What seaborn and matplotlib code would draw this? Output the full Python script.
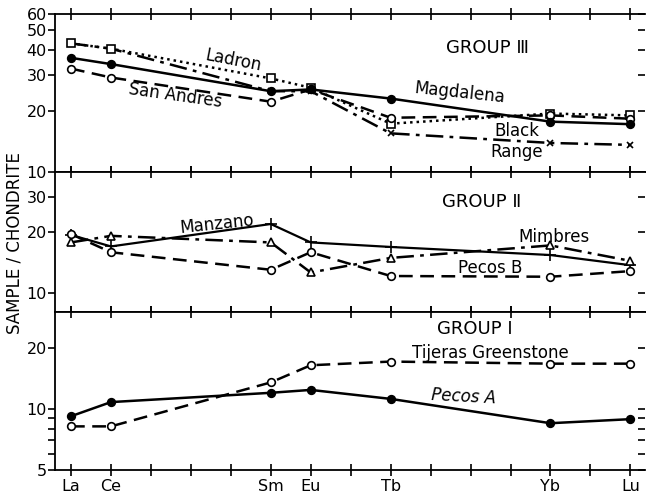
import numpy as np
import pandas as pd
import seaborn as sns
import matplotlib
matplotlib.use("Agg")
import matplotlib.pyplot as plt
from matplotlib.ticker import FixedLocator, NullFormatter

# ---------------- data ----------------
elements = ["La", "Ce", "Sm", "Eu", "Tb", "Yb", "Lu"]
element_pos = [0, 1, 5, 6, 8, 12, 14]

# Group III
magdalena = [36.5, 34.0, 25.0, 25.5, 23.0, 17.7, 17.2]
ladron = [43.0, 40.5, 28.9, 26.0, 17.3, 19.4, 19.0]
san_andres = [32.3, 29.2, 22.2, 25.5, 18.5, 19.0, 18.3]
black_range = [43.0, 40.5, 25.0, 25.0, 15.5, 13.9, 13.6]

# Group II
manzano = [19.4, 17.0, 22.0, 17.8, 16.9, 15.4, 13.7]
mimbres = [17.8, 19.2, 17.8, 12.6, 14.9, 17.2, 14.4]
pecos_b = [19.6, 15.9, 13.0, 15.9, 12.1, 12.0, 12.8]

# Group I
pecos_a = [9.2, 10.8, 12.0, 12.4, 11.2, 8.5, 8.9]
tijeras = [8.2, 8.2, 13.5, 16.4, 17.1, 16.7, 16.7]

sns.set_theme(style="white", rc={"text.color": "black", "axes.labelcolor": "black",
                                 "xtick.color": "black", "ytick.color": "black",
                                 "axes.edgecolor": "black"})
plt.rcParams["font.family"] = ["DejaVu Sans"]
plt.rcParams["axes.linewidth"] = 1.3

fig = plt.figure(figsize=(6.46, 4.94), dpi=100)
gs = fig.add_gridspec(3, 1, height_ratios=[158, 140, 158], hspace=0,
                      left=55 / 646, right=0.999, top=1 - 14 / 494, bottom=1 - 470 / 494)
axes = [fig.add_subplot(gs[i]) for i in range(3)]

def draw(ax, vals, ls, marker, filled, ms=5.5, lw=1.8):
    df = pd.DataFrame({"x": element_pos, "y": vals})
    sns.lineplot(data=df, x="x", y="y", ax=ax, color="black", linestyle=ls,
                 linewidth=lw, marker=marker, markersize=ms,
                 markeredgecolor="black", markeredgewidth=1.2,
                 markerfacecolor="black" if filled else "white")

ax1, ax2, ax3 = axes
# Group III
draw(ax1, black_range, (0, (7, 2.5, 1.5, 2.5)), "x", True, ms=5)
draw(ax1, ladron, (0, (1, 1.6)), "s", False, ms=5.5)
draw(ax1, san_andres, (0, (5.5, 3)), "o", False)
draw(ax1, magdalena, "-", "o", True)
# Group II
draw(ax2, manzano, "-", "+", True, ms=8, lw=1.6)
draw(ax2, mimbres, (0, (7, 2.5, 1.5, 2.5)), "^", False, ms=6)
draw(ax2, pecos_b, (0, (5.5, 3)), "o", False)
# Group I
draw(ax3, tijeras, (0, (5.5, 3)), "o", False)
draw(ax3, pecos_a, "-", "o", True)

limits = [(10, 60), (8, 40), (5, 30)]
majors = [[10, 20, 30, 40, 50, 60], [10, 20, 30], [5, 10, 20]]
labels = [["10", "20", "30", "40", "50", "60"], ["10", "20", "30"], ["5", "10", "20"]]
minors = [[], [], [6, 7, 8, 9]]

for i, ax in enumerate(axes):
    ax.set_yscale("log")
    ax.set_xlim(-0.4, 14.375)
    ax.set_ylim(*limits[i])
    ax.yaxis.set_major_locator(FixedLocator(majors[i]))
    ax.set_yticklabels(labels[i])
    ax.yaxis.set_minor_locator(FixedLocator(minors[i]))
    ax.yaxis.set_minor_formatter(NullFormatter())
    ax.set_xticks(range(15))
    ax.spines["right"].set_visible(False)
    ax.tick_params(axis="x", which="major", direction="inout", length=9, width=1.2,
                   top=True, bottom=True, labelsize=11.5, pad=2)
    ax.tick_params(axis="y", which="both", left=True, right=False, direction="out",
                   length=5, width=1.2, labelsize=11.5, pad=1)
    ax.set_xlabel("")
    ax.set_ylabel("")
    if i < 2:
        ax.set_xticklabels([""] * 15)
    sec = ax.secondary_yaxis("right")
    sec.yaxis.set_major_locator(FixedLocator(majors[i]))
    sec.yaxis.set_minor_locator(FixedLocator(minors[i]))
    sec.yaxis.set_major_formatter(NullFormatter())
    sec.yaxis.set_minor_formatter(NullFormatter())
    sec.tick_params(axis="y", which="both", direction="in", length=5, width=1.2)
    sec.spines["right"].set_visible(False)

xt = [""] * 15
for e, p in zip(elements, element_pos):
    xt[p] = e
ax3.set_xticklabels(xt)

fs = 12
ax1.text(4.05, 35.5, "Ladron", fontsize=fs, rotation=-11, ha="center", va="center")
ax1.text(2.6, 23.8, "San Andres", fontsize=fs, rotation=-8, ha="center", va="center")
ax1.text(9.73, 24.6, "Magdalena", fontsize=fs, rotation=-6, ha="center", va="center")
ax1.text(11.15, 15.9, "Black", fontsize=fs, ha="center", va="center")
ax1.text(11.15, 12.6, "Range", fontsize=fs, ha="center", va="center")
ax1.text(10.43, 40.6, "GROUP Ⅲ", fontsize=13, ha="center", va="center")

ax2.text(10.28, 28.2, "GROUP Ⅱ", fontsize=13, ha="center", va="center")
ax2.text(3.65, 22.0, "Manzano", fontsize=fs, rotation=6, ha="center", va="center")
ax2.text(12.1, 18.9, "Mimbres", fontsize=fs, ha="center", va="center")
ax2.text(10.5, 13.3, "Pecos B", fontsize=fs, ha="center", va="center")

ax3.text(10.1, 24.7, "GROUP Ⅰ", fontsize=13, ha="center", va="center")
ax3.text(10.5, 18.8, "Tijeras Greenstone", fontsize=fs, ha="center", va="center")
ax3.text(9.83, 11.5, "Pecos A", fontsize=fs, style="italic", rotation=-3, ha="center", va="center")

fig.text(15 / 646, 1 - 243 / 494, "SAMPLE / CHONDRITE", rotation=90, fontsize=12,
         ha="center", va="center")

fig.savefig("out.png", dpi=100, facecolor="white")
